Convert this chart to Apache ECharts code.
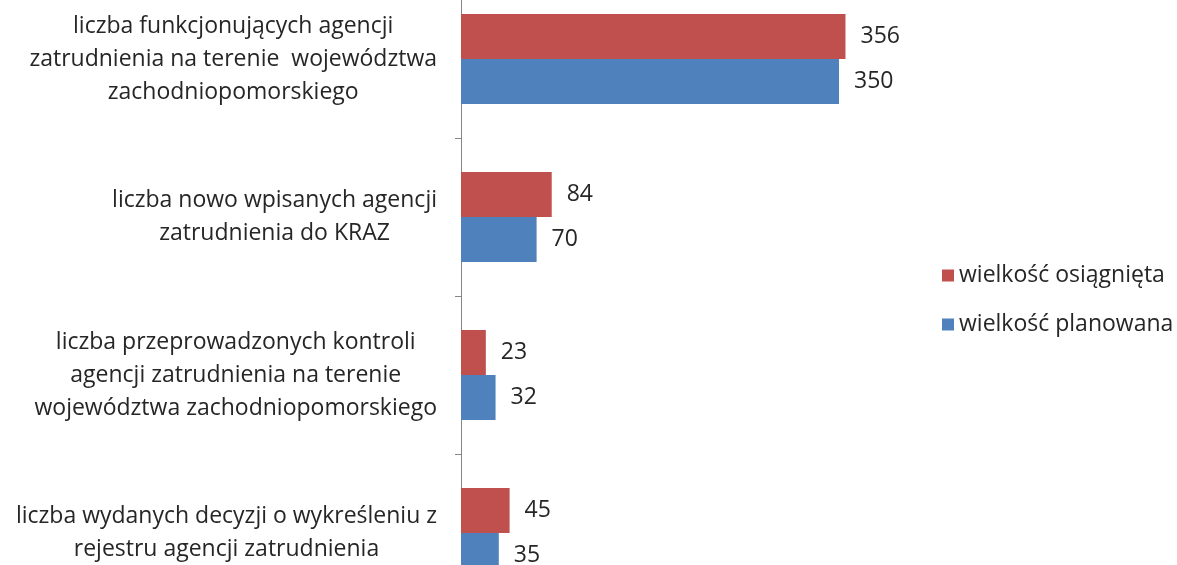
<!DOCTYPE html>
<html>
<head>
<meta charset="utf-8">
<script src="https://cdn.jsdelivr.net/npm/echarts@6/dist/echarts.min.js"></script>
<style>
html,body{margin:0;padding:0;background:#fff;overflow:hidden;width:1177px;height:565px;}
#chart{position:absolute;left:0;top:-20px;width:1177px;height:632px;}
</style>
</head>
<body>
<div id="chart"></div>
<script>
const categories = [
  "liczba funkcjonujących agencji\nzatrudnienia na terenie  województwa\nzachodniopomorskiego",
  "liczba nowo wpisanych agencji\nzatrudnienia do KRAZ",
  "liczba przeprowadzonych kontroli\nagencji zatrudnienia na terenie\nwojewództwa zachodniopomorskiego",
  "liczba wydanych decyzji o wykreśleniu z\nrejestru agencji zatrudnienia"
];
const achieved = [356, 84, 23, 45];
const planned = [350, 70, 32, 35];
const seriesNames = ["wielkość osiągnięta", "wielkość planowana"];

const FONT = "Open Sans";
const TXT = "#262626";
const FS = 23;

const chart = echarts.init(document.getElementById('chart'));
chart.setOption({
  animation: false,
  textStyle: { fontFamily: FONT },
  legend: {
    orient: 'vertical',
    left: 937,
    top: 279,
    itemWidth: 12,
    itemHeight: 12,
    itemGap: 26,
    icon: 'rect',
    textStyle: { fontSize: FS, color: TXT, fontFamily: FONT, lineHeight: 23 },
    data: seriesNames
  },
  grid: { left: 461, top: 0, width: 432, height: 632, containLabel: false },
  xAxis: { type: 'value', min: 0, max: 400, show: false },
  yAxis: {
    type: 'category',
    inverse: true,
    data: categories,
    axisLine: { show: true, lineStyle: { color: '#868686', width: 1 } },
    axisTick: { show: true, length: 6, lineStyle: { color: '#868686' } },
    splitLine: { show: false },
    axisLabel: {
      margin: 24,
      align: 'right',
      formatter: function (v) {
        return v.split('\n').map(l => '{c|' + l + '}').join('\n');
      },
      rich: {
        c: { align: 'center', fontSize: FS, lineHeight: 33, color: TXT, fontFamily: FONT }
      }
    }
  },
  series: [
    {
      name: seriesNames[0], type: 'bar', data: achieved, barWidth: 45, barGap: '0%',
      itemStyle: { color: '#C0504D' },
      label: { show: true, position: 'right', distance: 15, fontSize: FS, color: TXT, fontFamily: FONT }
    },
    {
      name: seriesNames[1], type: 'bar', data: planned, barWidth: 45, barGap: '0%',
      itemStyle: { color: '#4F81BD' },
      label: { show: true, position: 'right', distance: 15, fontSize: FS, color: TXT, fontFamily: FONT }
    }
  ]
});
</script>
</body>
</html>
